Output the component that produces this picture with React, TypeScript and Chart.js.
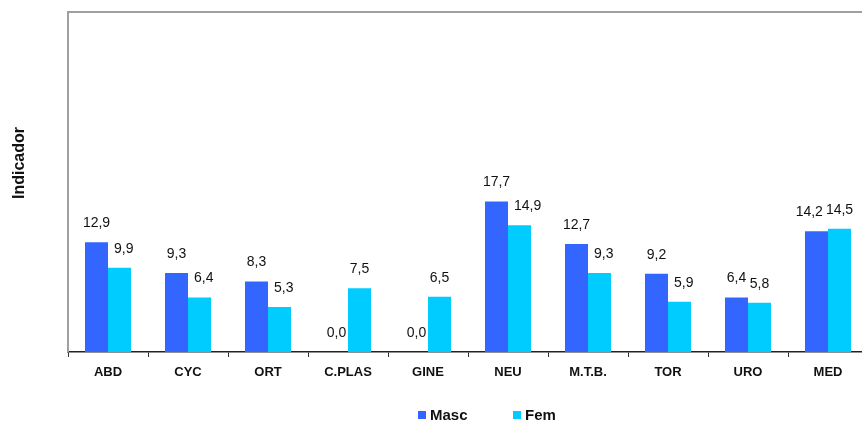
import React, { useEffect, useRef } from "react";
import { Chart, registerables } from "chart.js";

Chart.register(...registerables);

const categories = ["ABD", "CYC", "ORT", "C.PLAS", "GINE", "NEU", "M.T.B.", "TOR", "URO", "MED"];
const mascValues = [12.9, 9.3, 8.3, 0.0, 0.0, 17.7, 12.7, 9.2, 6.4, 14.2];
const femValues = [9.9, 6.4, 5.3, 7.5, 6.5, 14.9, 9.3, 5.9, 5.8, 14.5];
const seriesNames = ["Masc", "Fem"];
const yTitle = "Indicador";

const FONT = "'Liberation Sans', Arial, sans-serif";
const BLUE = "#3366FF";
const CYAN = "#00CCFF";

const framePlugin = {
  id: "frame",
  afterDraw(chart: any) {
    const { ctx, chartArea } = chart;
    ctx.save();
    ctx.strokeStyle = "#a0a0a0";
    ctx.lineWidth = 2;
    ctx.beginPath();
    ctx.moveTo(chartArea.left, chartArea.bottom);
    ctx.lineTo(chartArea.left, chartArea.top);
    ctx.lineTo(chart.width, chartArea.top);
    ctx.stroke();
    ctx.restore();
  },
};

const fmt = (v: number) => v.toFixed(1).replace(".", ",");

const labelsPlugin = {
  id: "valueLabels",
  afterDatasetsDraw(chart: any) {
    const { ctx } = chart;
    ctx.save();
    ctx.font = `14px ${FONT}`;
    ctx.fillStyle = "#111";
    ctx.textAlign = "center";
    ctx.textBaseline = "middle";
    const m0 = chart.getDatasetMeta(0);
    const m1 = chart.getDatasetMeta(1);
    const d0 = chart.data.datasets[0].data as number[];
    const d1 = chart.data.datasets[1].data as number[];
    for (let j = 0; j < d0.length; j++) {
      const a = m0.data[j];
      const b = m1.data[j];
      const ta = fmt(d0[j]);
      const tb = fmt(d1[j]);
      let xa = a.x;
      let xb = b.x;
      const ya = a.y - 19;
      const yb = b.y - 19;
      const wa = ctx.measureText(ta).width;
      const wb = ctx.measureText(tb).width;
      // keep the right label clear of a taller left bar
      if (a.y < yb + 7) {
        xb = Math.max(xb, a.x + a.width / 2 + 6 + wb / 2);
      }
      // keep the two labels from overlapping
      if (Math.abs(ya - yb) < 14) {
        const overlap = (xa + wa / 2 + 3) - (xb - wb / 2);
        if (overlap > 0) xa -= overlap;
      }
      ctx.fillText(ta, xa, ya);
      ctx.fillText(tb, xb, yb);
    }
    ctx.restore();
  },
};

const legendPlugin = {
  id: "customLegend",
  afterDraw(chart: any) {
    const { ctx } = chart;
    const xs = [418, 513];
    ctx.save();
    ctx.font = `bold 15px ${FONT}`;
    ctx.textBaseline = "alphabetic";
    ctx.textAlign = "left";
    chart.data.datasets.forEach((ds: any, i: number) => {
      ctx.fillStyle = ds.backgroundColor;
      ctx.fillRect(xs[i], 411, 8, 8);
      ctx.fillStyle = "#111";
      ctx.fillText(ds.label, xs[i] + 12, 420);
    });
    ctx.restore();
  },
};

const titlePlugin = {
  id: "yTitle",
  afterDraw(chart: any) {
    const { ctx } = chart;
    ctx.save();
    ctx.translate(20, 163);
    ctx.rotate(-Math.PI / 2);
    ctx.font = `bold 16px ${FONT}`;
    ctx.fillStyle = "#111";
    ctx.textAlign = "center";
    ctx.textBaseline = "middle";
    ctx.fillText(yTitle, 0, 0);
    ctx.restore();
  },
};

export default function App() {
  const ref = useRef<HTMLCanvasElement | null>(null);

  useEffect(() => {
    if (!ref.current) return;
    const chart = new Chart(ref.current, {
      type: "bar",
      data: {
        labels: categories,
        datasets: [
          { label: seriesNames[0], data: mascValues, backgroundColor: BLUE, borderWidth: 0 },
          { label: seriesNames[1], data: femValues, backgroundColor: CYAN, borderWidth: 0 },
        ],
      },
      options: {
        animation: false,
        responsive: false,
        devicePixelRatio: 1,
        layout: { padding: { left: 68, top: 12, right: 12, bottom: 31 } },
        plugins: {
          legend: { display: false },
          tooltip: { enabled: false },
        },
        datasets: {
          bar: { categoryPercentage: 0.575, barPercentage: 1 },
        },
        scales: {
          y: { display: false, min: 0, max: 40 },
          x: {
            afterFit(scale: any) {
              scale.height = 40;
            },
            grid: {
              display: true,
              drawOnChartArea: false,
              offset: true,
              tickLength: 5,
              color: "#333",
            },
            border: { display: true, color: "#222", width: 1.5 },
            ticks: {
              color: "#111",
              padding: 8,
              font: { family: FONT, size: 13, weight: "bold" },
            },
          },
        },
      },
      plugins: [framePlugin, labelsPlugin, legendPlugin, titlePlugin],
    });
    return () => chart.destroy();
  }, []);

  return (
    <div style={{ position: "absolute", left: 0, top: 0, width: 862, height: 423, overflow: "hidden", background: "#fff" }}>
      <canvas ref={ref} width={880} height={423} style={{ display: "block" }} />
    </div>
  );
}
